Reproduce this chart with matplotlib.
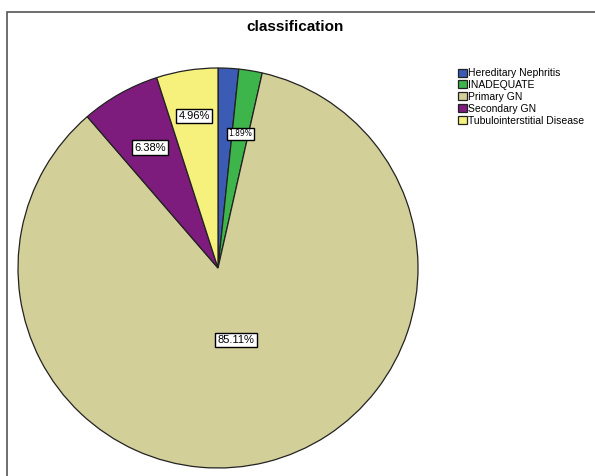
import numpy as np
import matplotlib
matplotlib.use("Agg")
import matplotlib.pyplot as plt
from matplotlib.patches import Rectangle

plt.rcParams["font.family"] = ["Liberation Sans", "DejaVu Sans"]

categories = ["Hereditary Nephritis", "INADEQUATE", "Primary GN", "Secondary GN",
              "Tubulointerstitial Disease"]
percents = [1.66, 1.89, 85.11, 6.38, 4.96]
colors = ["#3b5bb5", "#3db54b", "#d3cf99", "#7d1c7d", "#f6f07c"]
shown = [False, True, True, True, True]
label_radius = [0.68, 0.68, 0.37, 0.69, 0.77]
label_size = [5.5, 5.5, 8, 8, 8]

fig = plt.figure(figsize=(5.95, 4.76), dpi=100)

# outer frame like the SPSS output
fig.patches.append(Rectangle((7 / 595, -0.05), 1.1, (476 - 12) / 476 + 0.05,
                             transform=fig.transFigure, fill=False,
                             edgecolor="#555555", linewidth=1.2))

ax = fig.add_axes([18 / 595, 8 / 476, 400 / 595, 400 / 476])
wedges, _ = ax.pie(percents, colors=colors, startangle=90, counterclock=False,
                   radius=1.0,
                   wedgeprops=dict(edgecolor="#222222", linewidth=0.9))
ax.set_xlim(-1.0, 1.0)
ax.set_ylim(-1.0, 1.0)
ax.set_aspect("auto")
ax.axis("off")

for w, pct, ok, r, fs in zip(wedges, percents, shown, label_radius, label_size):
    if not ok:
        continue
    mid = np.deg2rad((w.theta1 + w.theta2) / 2)
    # tiny labels read better in DejaVu (the dot vanishes in Liberation)
    fam = ["DejaVu Sans"] if fs < 7 else ["Liberation Sans", "DejaVu Sans"]
    ax.text(r * np.cos(mid), r * np.sin(mid), f"{pct:.2f}%", ha="center", va="center",
            fontsize=fs, family=fam,
            bbox=dict(boxstyle="square,pad=0.2", facecolor="white",
                      edgecolor="black", linewidth=1.0))

fig.text(295 / 595, 1 - 27 / 476, "classification", ha="center", va="center",
         fontsize=11, fontweight="bold")

fig.legend(wedges, categories, loc="upper left", bbox_to_anchor=(454 / 595, 1 - 64 / 476),
           frameon=False, fontsize=7.5, handlelength=0.8, handleheight=0.8,
           handletextpad=0.15, labelspacing=0.18, borderaxespad=0)

fig.savefig("out.png", dpi=100)
